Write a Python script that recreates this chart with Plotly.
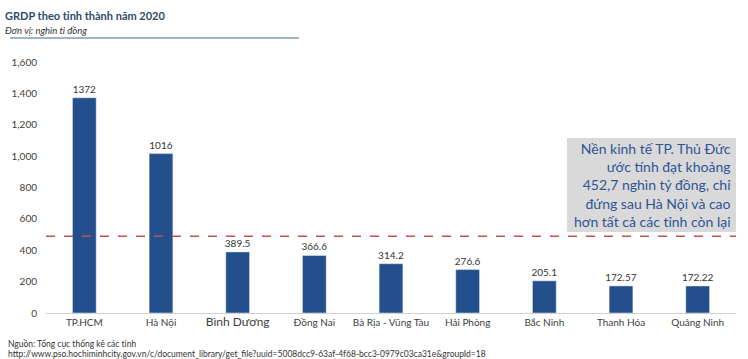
import plotly.graph_objects as go

categories = ["TP.HCM", "Hà Nội", "Bình Dương", "Đồng Nai", "Bà Rịa - Vũng Tàu",
              "Hải Phòng", "Bắc Ninh", "Thanh Hóa", "Quảng Ninh"]
values = [1372, 1016, 389.5, 366.6, 314.2, 276.6, 205.1, 172.57, 172.22]
value_labels = ["1372", "1016", "389.5", "366.6", "314.2", "276.6", "205.1", "172.57", "172.22"]
tick_labels = ["TP.HCM", "Hà Nội", "<span style='font-size:12px'>Bình Dương</span>", "Đồng Nai",
               "Bà Rịa - Vũng Tàu", "Hải Phòng", "Bắc Ninh", "Thanh Hóa", "Quảng Ninh"]
y_ticks = [0, 200, 400, 600, 800, 1000, 1200, 1400, 1600]
ref_line = 490
box_range = [516, 1115]

FONT = "Lato"
fig = go.Figure()
fig.add_trace(go.Bar(
    x=categories, y=values, text=value_labels, textposition="outside",
    textfont=dict(size=10, color="#333333", family=FONT), constraintext="none",
    marker=dict(color="#23508c"), cliponaxis=False, showlegend=False,
))

fig.add_shape(type="line", xref="paper", yref="y", x0=0, x1=1, y0=ref_line, y1=ref_line,
              line=dict(color="#c0504d", width=1.5, dash="dash"))
fig.add_shape(type="rect", xref="paper", yref="y", x0=0.755, x1=1.0, y0=box_range[0], y1=box_range[1],
              fillcolor="#d9d9d9", line=dict(width=0), layer="below")
fig.add_annotation(xref="paper", yref="y", x=0.995, y=(box_range[0] + box_range[1]) / 2,
                   xanchor="right", yanchor="middle", align="right", showarrow=False,
                   text="Nền kinh tế TP. Thủ Đức<br>ước tính đạt khoảng<br>452,7 nghìn tỷ đồng, chỉ<br>đứng sau Hà Nội và cao<br>hơn tất cả các tỉnh còn lại",
                   font=dict(size=14, color="#2f5597", family=FONT))

# Title / subtitle / source
fig.add_annotation(xref="paper", yref="paper", x=-43/693, y=1 + (62-16)/251, xanchor="left", yanchor="middle",
                   text="<b>GRDP theo tỉnh thành năm 2020</b>", showarrow=False,
                   font=dict(size=11, color="#2e4a6b", family=FONT))
fig.add_annotation(xref="paper", yref="paper", x=-43/693, y=1 + (62-30)/251, xanchor="left", yanchor="middle",
                   text="<i>Đơn vị: nghìn tỉ đồng</i>", showarrow=False,
                   font=dict(size=9.5, color="#333333", family=FONT))
fig.add_shape(type="line", xref="paper", yref="paper", x0=-36/693, x1=254/693,
              y0=1 + (62-38)/251, y1=1 + (62-38)/251, line=dict(color="#7f9bb5", width=1.5))
fig.add_annotation(xref="paper", yref="paper", x=-40/693, y=-(344-313)/251, xanchor="left", yanchor="middle",
                   text="Nguồn: Tổng cục thống kê các tỉnh", showarrow=False,
                   font=dict(size=8.5, color="#333333", family=FONT))
fig.add_annotation(xref="paper", yref="paper", x=-40/693, y=-(354-313)/251, xanchor="left", yanchor="middle",
                   text="http://www.pso.hochiminhcity.gov.vn/c/document_library/get_file?uuid=5008dcc9-63af-4f68-bcc3-0979c03ca31e&groupId=18",
                   showarrow=False, font=dict(size=8.5, color="#333333", family=FONT))

fig.update_layout(
    width=748, height=359, margin=dict(l=43, r=12, t=62, b=46),
    paper_bgcolor="white", plot_bgcolor="white", bargap=0.69,
    uniformtext=dict(mode="show", minsize=10),
    font=dict(family=FONT, size=10, color="#595959"),
    xaxis=dict(tickmode="array", tickvals=categories, ticktext=tick_labels, showline=True,
               linecolor="#d0d0d0", ticks="", tickfont=dict(size=10, color="#404040")),
    yaxis=dict(range=[0, 1600], tickvals=y_ticks, tickformat=",", showgrid=False, zeroline=False,
               showline=False, ticks="", ticklabelstandoff=8, tickfont=dict(size=10, color="#404040")),
)
fig.write_html("out.html")
